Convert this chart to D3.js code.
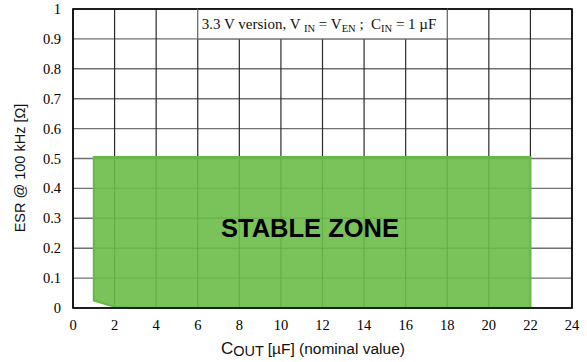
<!DOCTYPE html>
<html>
<head>
<meta charset="utf-8">
<script src="https://cdn.jsdelivr.net/npm/d3@7"></script>
<style>
  html, body { margin: 0; padding: 0; background: #fff; }
</style>
</head>
<body>
<div id="chart"></div>
<script>
// data
const xTicks = [0, 2, 4, 6, 8, 10, 12, 14, 16, 18, 20, 22, 24];
const yTicks = [0, 0.1, 0.2, 0.3, 0.4, 0.5, 0.6, 0.7, 0.8, 0.9, 1];
const yTickLabels = ["0", "0.1", "0.2", "0.3", "0.4", "0.5", "0.6", "0.7", "0.8", "0.9", "1"];
// stable zone outline: Cout [uF] vs ESR [ohm]
const zoneCout = [1, 2, 3, 22, 22, 1];
const zoneEsr  = [0.025, 0.004, 0, 0, 0.505, 0.505];
const noteBox  = { x0: 6, x1: 18, y0: 0.9, y1: 1 };

const width = 587, height = 362;

const svg = d3.select("#chart").append("svg")
    .attr("width", width)
    .attr("height", height);

const x = d3.scaleLinear().domain([0, 24]).range([73, 572]);
const y = d3.scaleLinear().domain([0, 1]).range([308, 9]);

// ---- grid
const grid = svg.append("g");
grid.selectAll("line.h")
  .data(yTicks)
  .enter().append("line")
    .attr("x1", x(0)).attr("x2", x(24))
    .attr("y1", d => y(d)).attr("y2", d => y(d))
    .attr("stroke", "#707070")
    .attr("stroke-width", 1.4);

grid.selectAll("line.v")
  .data(xTicks)
  .enter().append("line")
    .attr("x1", d => x(d)).attr("x2", d => x(d))
    .attr("y1", y(0)).attr("y2", y(1))
    .attr("stroke", "#2a2a2a")
    .attr("stroke-width", 1.2);

// ---- stable zone
const zonePts = zoneCout.map((c, i) => [x(c), y(zoneEsr[i])]);
svg.append("path")
    .attr("d", d3.line()(zonePts) + "Z")
    .attr("fill", "#6cbc49")
    .attr("fill-opacity", 0.9)
    .attr("stroke", "#66b846")
    .attr("stroke-width", 2);

svg.append("text")
    .attr("x", x(11.4))
    .attr("y", 237)
    .attr("text-anchor", "middle")
    .style("font-family", "Liberation Sans, Arial, sans-serif")
    .style("font-weight", "bold")
    .style("font-size", "25.5px")
    .text("STABLE ZONE");

// ---- frame
svg.append("rect")
    .attr("x", x(0)).attr("y", y(1))
    .attr("width", x(24) - x(0)).attr("height", y(0) - y(1))
    .attr("fill", "none")
    .attr("stroke", "#000")
    .attr("stroke-width", 1.6);

// ---- note box
svg.append("rect")
    .attr("x", x(noteBox.x0)).attr("y", y(noteBox.y1))
    .attr("width", x(noteBox.x1) - x(noteBox.x0))
    .attr("height", y(noteBox.y0) - y(noteBox.y1))
    .attr("fill", "#fff")
    .attr("stroke", "#707070")
    .attr("stroke-width", 1.2);
svg.append("line")
    .attr("x1", x(noteBox.x0)).attr("x2", x(noteBox.x1))
    .attr("y1", y(1)).attr("y2", y(1))
    .attr("stroke", "#000").attr("stroke-width", 1.6);

const note = svg.append("text")
    .attr("x", x(noteBox.x0) + 4)
    .attr("y", 29)
    .style("white-space", "pre")
    .style("font-family", "Liberation Serif, Times New Roman, serif")
    .style("font-size", "15px")
    .attr("fill", "#111");
const parts = [
  ["3.3 V version, V ", 0, 15], ["IN", 3, 10.5], [" = V", 0, 15], ["EN", 3, 10.5],
  [" ;  C", 0, 15], ["IN", 3, 10.5], [" = 1 \u00b5F", 0, 15]
];
let shift = 0;
parts.forEach(([t, dy, fs]) => {
  note.append("tspan")
    .attr("dy", dy - shift)
    .style("font-size", fs + "px")
    .text(t);
  shift = dy;
});

// ---- tick labels
svg.append("g").selectAll("text")
  .data(yTicks)
  .enter().append("text")
    .attr("x", 61)
    .attr("y", d => y(d) + 5)
    .attr("text-anchor", "end")
    .style("font-family", "Liberation Serif, Times New Roman, serif")
    .style("font-size", "14.5px")
    .text((d, i) => yTickLabels[i]);

svg.append("g").selectAll("text")
  .data(xTicks)
  .enter().append("text")
    .attr("x", d => x(d))
    .attr("y", 330)
    .attr("text-anchor", "middle")
    .style("font-family", "Liberation Serif, Times New Roman, serif")
    .style("font-size", "14.5px")
    .text(d => d);

// ---- axis titles
const xt = svg.append("text")
    .attr("x", 313)
    .attr("y", 354)
    .attr("text-anchor", "middle")
    .style("white-space", "pre")
    .style("font-family", "Liberation Sans, Arial, sans-serif")
    .style("font-size", "15.5px")
    .attr("fill", "#111");
xt.append("tspan").style("font-size", "17px").text("C");
xt.append("tspan").attr("dy", 2).style("font-size", "14.5px").text("OUT ");
xt.append("tspan").attr("dy", -2).text("[\u00b5F] (nominal value)");

svg.append("text")
    .attr("transform", "translate(25,168) rotate(-90)")
    .attr("text-anchor", "middle")
    .style("font-family", "Liberation Sans, Arial, sans-serif")
    .style("font-size", "14.5px")
    .attr("fill", "#111")
    .text("ESR @ 100 kHz [\u03a9]");
</script>
</body>
</html>
